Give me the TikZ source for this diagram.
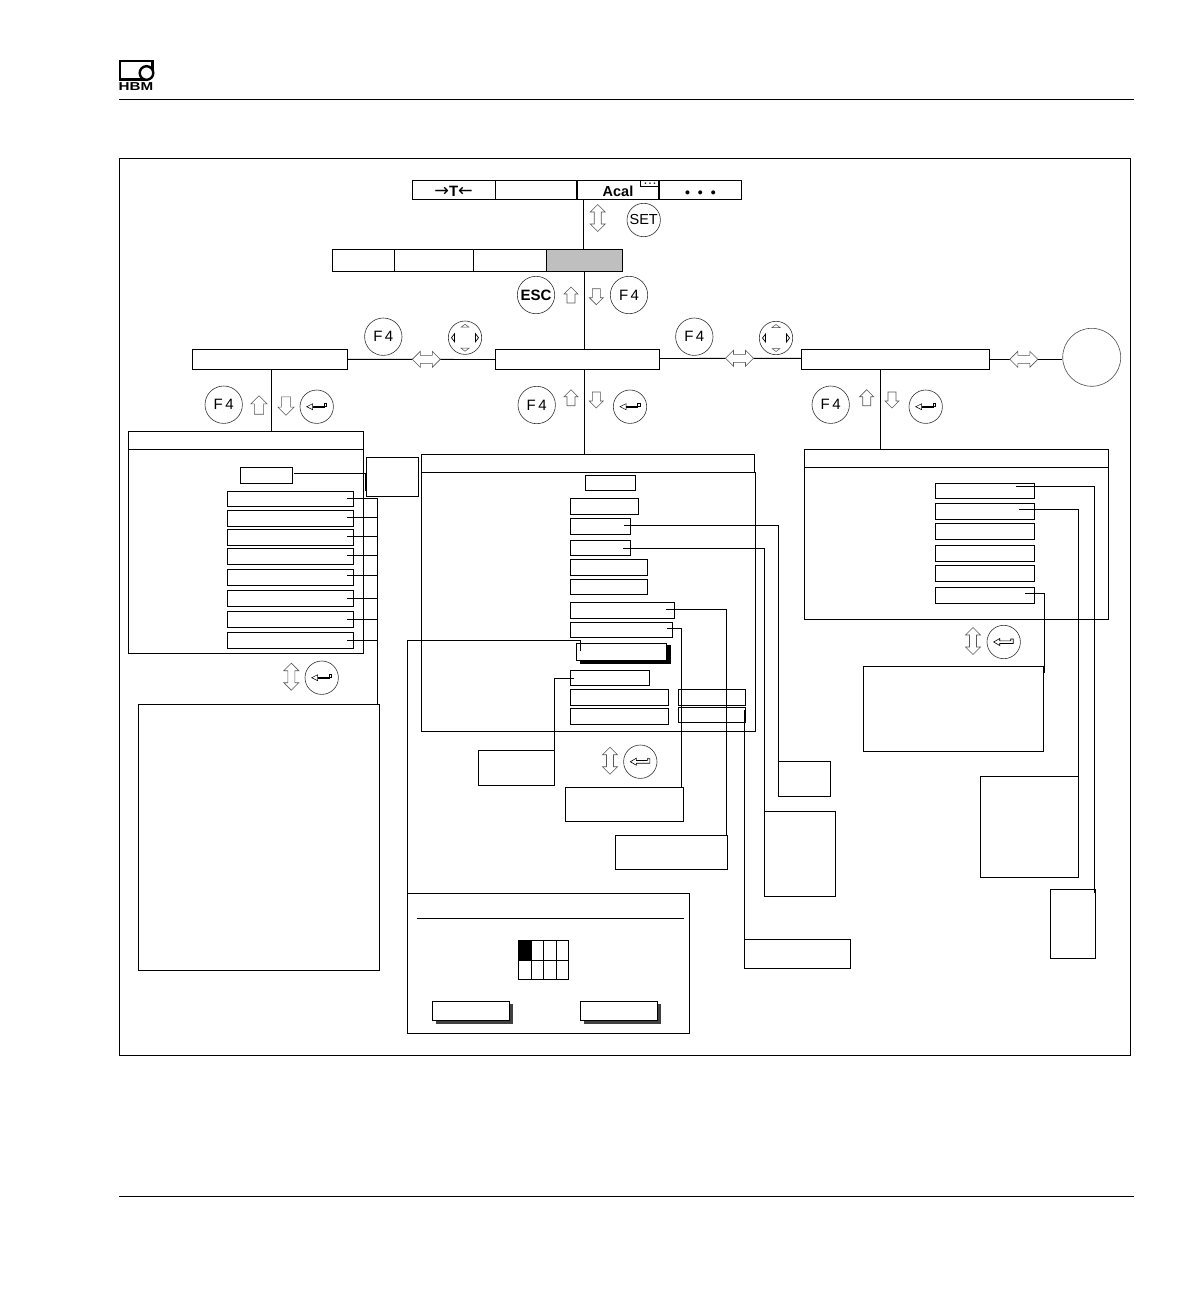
\documentclass[tikz,border=0pt]{standalone}
\usepackage{fontspec}
\setmainfont{Liberation Sans}
\newfontfamily\arrowfont{DejaVu Sans}
\usetikzlibrary{calc}
\newcommand{\bx}[7][boxs]{%
  \pgfmathsetmacro\bxw{#5-#3}\pgfmathsetmacro\bxh{#6-#4}%
  \pgfmathsetmacro\bxc{(#3+#5)/2}\pgfmathsetmacro\bxd{(#4+#6)/2}%
  \node[#1,minimum width=\bxw pt,minimum height=\bxh pt] (#2) at (\bxc,\bxd) {#7};}
\tikzset{
  x=1pt,y=-1pt,
  boxs/.style={draw=black,line width=0.9pt,rectangle,inner sep=0pt,outer sep=0pt},
  greybox/.style={boxs,fill=black!25},
  whitebox/.style={boxs,fill=white},
  link/.style={draw=black,line width=0.9pt},
  thin rule/.style={draw=black,line width=1.1pt},
  keyL/.style={circle,draw=black!80,line width=0.6pt,minimum size=37.4pt,inner sep=0pt,font=\fontsize{15}{15}\selectfont},
  keyS/.style={circle,draw=black!80,line width=0.6pt,minimum size=33.4pt,inner sep=0pt,font=\fontsize{14.5}{14.5}\selectfont},
  arr/.style={draw=black!65,line width=0.6pt,fill=white,line join=miter},
  pics/uparr/.style={code={\path[arr] (0,-8)--(7,-1)--(4,-1)--(4,8)--(-4,8)--(-4,-1)--(-7,-1)--cycle;}},
  pics/dnarr/.style={code={\path[arr] (0,8)--(7,1)--(4,1)--(4,-8)--(-4,-8)--(-4,1)--(-7,1)--cycle;}},
  pics/udarr/.style={code={\path[arr] (0,-13.5)--(7.5,-6)--(3.5,-6)--(3.5,6)--(7.5,6)--(0,13.5)--(-7.5,6)--(-3.5,6)--(-3.5,-6)--(-7.5,-6)--cycle;}},
  pics/lrarr/.style={code={\path[arr] (-14,0)--(-6,-8)--(-6,-4)--(6,-4)--(6,-8)--(14,0)--(6,8)--(6,4)--(-6,4)--(-6,8)--cycle;}},
  pics/entA/.style={code={
    \draw[black,line width=0.5pt,fill=white] (-10,0)--(-4,-3)--(-4,3)--cycle;
    \draw[black,line width=1.6pt] (-4,0)--(8,0);
    \draw[black,line width=0.5pt,fill=white] (7.5,-3)rectangle(10,0);}},
  pics/entB/.style={code={
    \draw[black,line width=0.6pt,fill=white] (-10,0)--(-4,-3.5)--(-4,-1.2)--(7,-1.2)--(7,-3)--(9.5,-3)--(9.5,1.5)--(-4,1.5)--(-4,3.5)--cycle;}},
  pics/navk/.style={code={
    \draw[black!70,line width=0.5pt,fill=white] (-4,-10.5)--(0,-13.5)--(4,-10.5)--cycle;
    \draw[black!70,line width=0.5pt,fill=white] (-4,10.5)--(0,13.5)--(4,10.5)--cycle;
    \draw[black,line width=0.7pt,fill=white] (-10.5,-4)--(-13.5,0)--(-10.5,4)--cycle;
    \draw[black,line width=0.7pt,fill=white] (10.5,-4)--(13.5,0)--(10.5,4)--cycle;}},
}
\begin{document}
\begin{tikzpicture}
\useasboundingbox (0,0) rectangle (1191,1304);
\fill[white] (0,0) rectangle (1191,1304);

% logo and page rules
\draw[black,line width=2.2pt] (152.4,72)--(152.4,61)--(120,61)--(120,79.5)--(146,79.5);
\draw[black,line width=2.4pt,fill=white] (146.5,73) circle (6.8);
\node[inner sep=0pt] (logo) at (136,87) {\fontsize{11.5}{11.5}\selectfont\bfseries\scalebox{1.32}[1]{HBM}};
\coordinate (ruleTopL) at (119,99); \coordinate (ruleTopR) at (1134,99);
\coordinate (ruleBotL) at (119,1196); \coordinate (ruleBotR) at (1134,1196);
\draw[thin rule,line width=0.9pt] (ruleTopL)--(ruleTopR);
\draw[thin rule,line width=0.9pt] (ruleBotL)--(ruleBotR);

% frame
\bx{frame}{119.5}{158}{1130.5}{1055}{}

% top bar
\bx{ca}{412}{180.7}{495.3}{199.3}{\raisebox{-6.4pt}[0pt][0pt]{{\fontsize{17.5}{17.5}\arrowfont →}{\fontsize{15}{15}\selectfont\bfseries T}{\fontsize{17.5}{17.5}\arrowfont ←}}}
\bx{cb}{495.3}{180.7}{577}{199.3}{}
\bx{cc}{577}{180.7}{659}{199.3}{\raisebox{-6pt}[0pt][0pt]{\fontsize{14.5}{14.5}\selectfont\bfseries Acal}}
\bx{cd}{659}{180.7}{741.7}{199.3}{\raisebox{-7.7pt}[0pt][0pt]{\fontsize{14}{14}\selectfont\bfseries •\hspace{8pt}•\hspace{8pt}•}}
\draw[black,line width=1.6pt] (cc.north west)--(cc.south west);
\draw[black,line width=1.6pt] (cc.north east)--(cc.south east);
\bx{mini}{640.7}{180.7}{659.3}{186.7}{\fontsize{5.5}{5.5}\selectfont\bfseries •\hspace{2.6pt}•\hspace{2.6pt}•}

% second bar
\bx{sa}{332.3}{249.3}{394.3}{271.3}{}
\bx{sb}{394.3}{249.3}{473.7}{271.3}{}
\bx{sc}{473.7}{249.3}{546.7}{271.3}{}
\bx[greybox]{sd}{546.7}{249.3}{622.7}{271.3}{}

% level boxes
\bx{lft}{192.3}{349.3}{347.7}{369.3}{}
\bx{mid}{495.3}{349.7}{659.3}{369.3}{}
\bx{rgt}{801.3}{349.3}{989.7}{369.3}{}
\node[circle,draw=black!70,line width=0.6pt,minimum size=58pt,inner sep=0pt] (big) at (1091.7,357.3) {};

% left panel
\bx{lp}{128.3}{431.3}{363.7}{653.3}{}
\coordinate (lpHL) at (128.3,449.3); \coordinate (lpHR) at (363.7,449.3);
\draw[link] (lpHL)--(lpHR);
\bx{ls}{240.3}{467.3}{292.7}{483.7}{}
\bx{lq}{366.3}{457.3}{418.7}{496.3}{}
\bx{La}{227.3}{491.3}{353.7}{506.3}{}
\bx{Lb}{227.3}{510.3}{353.7}{526.3}{}
\bx{Lc}{227.3}{529.3}{353.7}{545.3}{}
\bx{Ld}{227.3}{548.3}{353.7}{564.3}{}
\bx{Le}{227.3}{569.3}{353.7}{585.3}{}
\bx{Lf}{227.3}{590.3}{353.7}{606.3}{}
\bx{Lg}{227.3}{611.3}{353.7}{627.3}{}
\bx{Lh}{227.3}{632.3}{353.7}{648.3}{}
\bx{llow}{138.3}{704.3}{379.3}{970}{}

% middle panel
\bx{mph}{421.3}{454.3}{754.3}{472.3}{}
\bx{mp}{421.3}{472.3}{755.7}{731.3}{}
\bx{ma}{585.3}{475.3}{635.7}{490.7}{}
\bx{mb}{570.3}{498.3}{638.7}{514.3}{}
\bx{mc}{570.3}{518.3}{630.7}{534.3}{}
\bx{md}{570.3}{540.3}{630.7}{555.7}{}
\bx{me}{570.3}{559.3}{647.7}{575.3}{}
\bx{mf}{570.3}{579.3}{647.7}{594.7}{}
\bx{mg}{570.3}{602.3}{674.7}{618.3}{}
\bx{mh}{570.3}{622.3}{672.7}{637.7}{}
\fill[black] (580.3,645.3) rectangle (671,663.7);
\bx[whitebox]{btn}{576.3}{643.3}{666.7}{660.7}{}
\bx{mj}{570.3}{670.3}{649.7}{685.7}{}
\bx{mk}{570.3}{689.3}{668.7}{705.7}{}
\bx{ml}{570.3}{708.3}{668.7}{724.7}{}
\bx{mm}{678.3}{689.3}{745.7}{705.7}{}
\bx{mn}{678.3}{707.3}{745.7}{722.7}{}

% callouts
\bx{mF}{478.3}{750.3}{554.7}{785.3}{}
\bx{mD}{565.3}{787.3}{683.7}{821.3}{}
\bx{mC}{615.3}{835.3}{727.7}{869.3}{}
\bx{mA}{778.3}{761.3}{830.3}{796.3}{}
\bx{mB}{764.3}{811.3}{835.3}{896.3}{}
\bx{mG}{744.3}{939.3}{850.7}{968.3}{}

% dialog panel
\bx{dlg}{407.3}{893.3}{689.7}{1033.3}{}
\coordinate (dlgL) at (416.7,918.3); \coordinate (dlgR) at (684,918.3);
\draw[link] (dlgL)--(dlgR);
\fill[black] (518.3,940.3) rectangle (531.7,960.3);
\bx{gridb}{518.3}{940.3}{568.7}{979.3}{}
\draw[link] (518.3,960.3)--(568.7,960.3);
\draw[link] (531.7,940.3)--(531.7,979.3);
\draw[link] (543.7,940.3)--(543.7,979.3);
\draw[link] (556.7,940.3)--(556.7,979.3);
\fill[black!75] (436,1004) rectangle (513,1023.7);
\bx[whitebox]{dok}{432.3}{1001.3}{509.7}{1020.7}{}
\fill[black!75] (584,1004) rectangle (661,1023.7);
\bx[whitebox]{dno}{580.3}{1001.3}{657.7}{1020.7}{}

% right panel
\bx{rp}{804.7}{449.3}{1108.3}{619.3}{}
\coordinate (rpHL) at (804.7,467.3); \coordinate (rpHR) at (1108.3,467.3);
\draw[link] (rpHL)--(rpHR);
\bx{Ra}{935.3}{483.3}{1034.7}{498.7}{}
\bx{Rb}{935.3}{503.3}{1034.7}{519.3}{}
\bx{Rc}{935.3}{523.3}{1034.7}{539.3}{}
\bx{Rd}{935.3}{545.3}{1034.7}{561.3}{}
\bx{Re}{935.3}{565.3}{1034.7}{581.3}{}
\bx{Rf}{935.3}{587.3}{1034.7}{603.3}{}
\bx{rJ}{863.3}{666.3}{1043.7}{751.3}{}
\bx{rH}{980.3}{776.3}{1078.7}{877.7}{}
\bx{rI}{1050.3}{889.3}{1095.7}{958.3}{}

% connectors: main tree
\draw[link] ($(cc.south west)+(6.3,0)$) -- ($(sd.north)+(-1.4,0)$);
\draw[link] ($(sd.south)+(-0.4,0)$) -- ($(mid.north)+(7,0)$);
\draw[link] (lft.east) -- (mid.west);
\draw[link] ($(mid.east)+(0,-1)$) -- ($(rgt.west)+(0,-1)$);
\draw[link] (rgt.east) -- (big.west |- rgt.east);
\draw[link] ($(lft.south)+(1.3,0)$) -- ($(lp.north west)+(143,0)$);
\draw[link] ($(mid.south)+(7,0)$) -- ($(mph.north west)+(163,0)$);
\draw[link] ($(rgt.south)+(-15.2,0)$) -- ($(rp.north west)+(75.6,0)$);

% connectors: left panel
\draw[link] ($(ls.east)+(1.6,-2.2)$) -- ($(lq.west)+(-0.4,-3.5)$) -- ($(lq.west)+(-0.4,14)$);
\coordinate (lrail) at ($(llow.north east)+(-2,0)$);
\foreach \n/\d in {La/0,Lb/-1,Lc/-0.6,Ld/-0.6,Le/-2,Lf/0,Lg/0,Lh/0}
  \draw[link] ($(\n.east)+(-6.4,\d)$) -| (lrail);

% connectors: middle panel
\draw[link] ($(mc.east)+(-6.7,-1)$) -| (mA.north west);
\draw[link] ($(md.east)+(-7.4,0.3)$) -| (mB.north west);
\draw[link] ($(mg.east)+(-9,-1)$) -| ($(mC.north east)+(-1.4,0)$);
\draw[link] ($(mh.east)+(-5.4,-1.7)$) -| ($(mD.north east)+(-2.4,0)$);
\draw[link] ($(btn.north west)+(4,8)$) -- ($(btn.north west)+(4,-2.6)$) -| (dlg.north west);
\draw[link] ($(mj.west)+(4,0.3)$) -| (mF.north east);
\draw[link] ($(mn.east)+(-1.4,-5)$) -- (mG.north west);

% connectors: right panel
\draw[link] ($(Ra.east)+(-18.7,-4.7)$) -| ($(rI.north east)+(-1.4,4)$);
\draw[link] ($(Rb.east)+(-16,-2)$) -| (rH.north east);
\draw[link] ($(Rf.east)+(-9.7,-2)$) -| ($(rJ.north east)+(0.6,7)$);

% keys
\node[keyS] (kset) at (643.7,220) {SET};
\node[keyL,font=\fontsize{15}{15}\selectfont\bfseries] (kesc) at (536,295) {ESC};
\node[keyL] (kf1) at (629,295) {F\,4};
\node[keyL] (kf2) at (383.3,336.7) {F\,4};
\node[keyL] (kf3) at (694.3,336.7) {F\,4};
\node[keyL] (kf4) at (223.7,404.7) {F\,4};
\node[keyL] (kf5) at (536.7,405) {F\,4};
\node[keyL] (kf6) at (830.7,404.7) {F\,4};
\node[keyS] (kn1) at (465,337.7) {};
\node[keyS] (kn2) at (776,338) {};
\node[keyS] (ke1) at (316.7,406.7) {};
\node[keyS] (ke2) at (630,406.7) {};
\node[keyS] (ke3) at (925.7,406.7) {};
\node[keyS] (ke4) at (321.7,677.7) {};
\node[keyS] (ke5) at (640.3,761.7) {};
\node[keyS] (ke6) at (1003.7,642) {};
\pic at (kn1) {navk};
\pic at (kn2) {navk};
\pic at (ke1) {entA};
\pic at (ke2) {entA};
\pic at (ke3) {entA};
\pic at (ke4) {entA};
\pic at (ke5) {entB};
\pic at (ke6) {entB};

% direction arrows
\pic at (597.7,218) {udarr};
\pic at (571,295) {uparr};
\pic at (596.3,296.7) {dnarr};
\pic at (426.3,359.3) {lrarr};
\pic at (739.5,358.3) {lrarr};
\pic at (1023.8,359.3) {lrarr};
\pic[scale=1.15] at (259,405) {uparr};
\pic[scale=1.15] at (286,406) {dnarr};
\pic at (571,397.7) {uparr};
\pic at (596.3,400) {dnarr};
\pic at (866.7,397.7) {uparr};
\pic at (892,400) {dnarr};
\pic at (291.3,676.7) {udarr};
\pic at (610,760.7) {udarr};
\pic at (973,641) {udarr};
\end{tikzpicture}
\end{document}
